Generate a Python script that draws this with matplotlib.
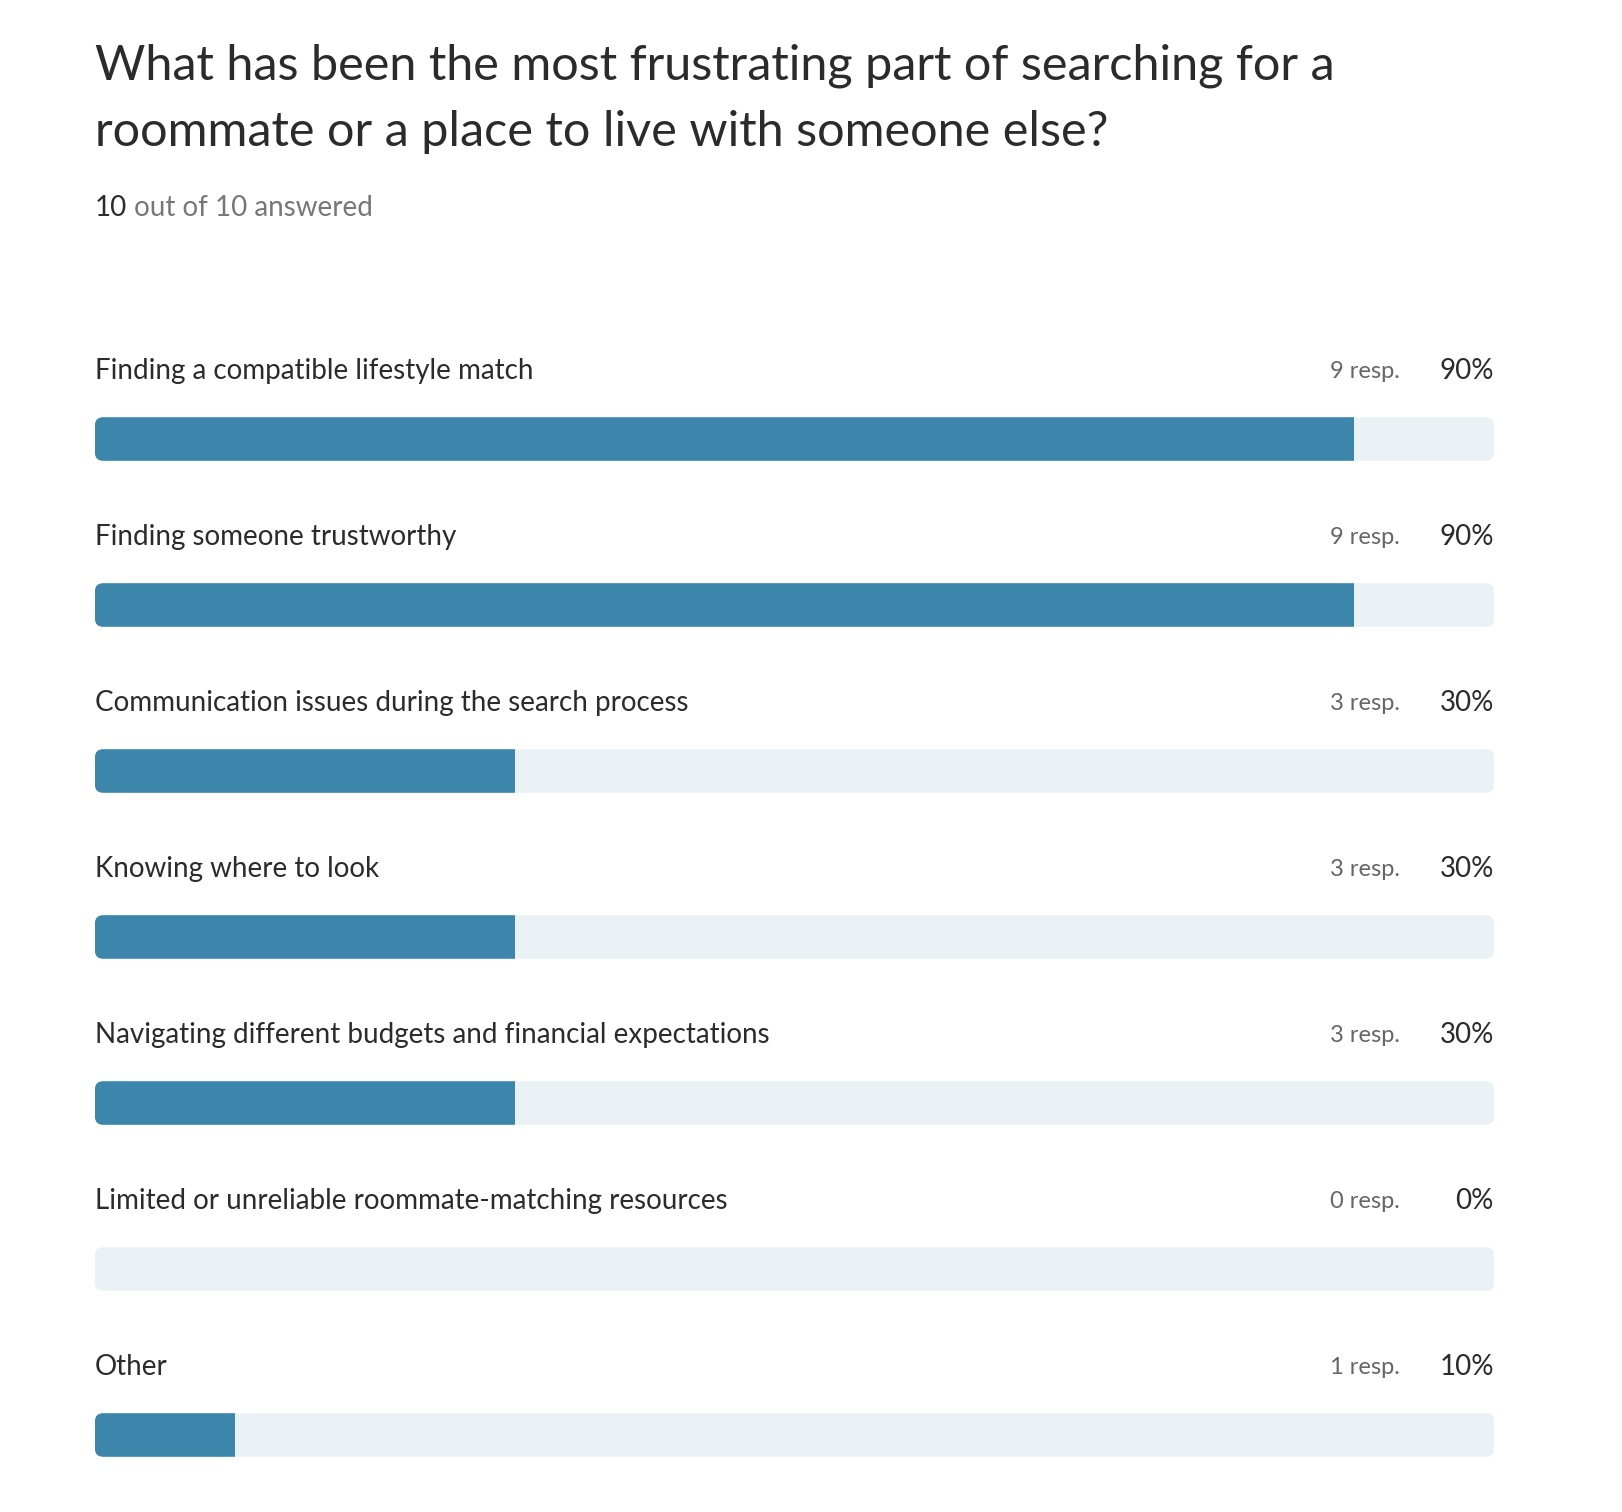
import matplotlib
matplotlib.use("Agg")
import matplotlib.pyplot as plt
from matplotlib.patches import FancyBboxPatch, Rectangle

plt.rcParams["font.family"] = ["Lato", "DejaVu Sans"]

TITLE = "What has been the most frustrating part of searching for a\nroommate or a place to live with someone else?"
answered, total = 10, 10
labels = [
    "Finding a compatible lifestyle match",
    "Finding someone trustworthy",
    "Communication issues during the search process",
    "Knowing where to look",
    "Navigating different budgets and financial expectations",
    "Limited or unreliable roommate-matching resources",
    "Other",
]
responses = [9, 9, 3, 3, 3, 0, 1]
percents = [90, 90, 30, 30, 30, 0, 10]

W, H = 1622, 1512
fig = plt.figure(figsize=(W / 100, H / 100), dpi=100)
fig.patch.set_facecolor("white")

X0, BW = 95, 1399
ax = fig.add_axes([X0 / W, 0, BW / W, 1])
ax.set_xlim(0, 100)
ax.set_ylim(H, 0)
ax.axis("off")

fig.text(X0 / W, 1 - 44 / H, TITLE, fontsize=35, color="#2b2b2b", va="top",
         linespacing=1.6)
t = ax.text(0, 208, f"{answered}", fontsize=20, color="#2b2b2b", va="center")
ax.annotate(f" out of {total} answered", xy=(1, 0.5), xycoords=t,
            fontsize=20, color="#777777", va="center", ha="left")

track = "#eaf2f6"
fill = "#3c85ab"
for i, (lab, n, p) in enumerate(zip(labels, responses, percents)):
    ly = 371 + i * 166
    by = 439 + i * 166
    ax.text(0, ly, lab, fontsize=20, color="#2b2b2b", va="center", ha="left")
    ax.text(93.3, ly, f"{n} resp.", fontsize=17, color="#666666", va="center", ha="right")
    ax.text(100, ly, f"{p}%", fontsize=20, color="#2b2b2b", va="center", ha="right")
    h = 44
    bg = FancyBboxPatch((0.6, by - h / 2 + 8), 98.8, h - 16,
                        boxstyle="round,pad=0.6,rounding_size=0.6",
                        mutation_aspect=13, fc=track, ec="none")
    ax.add_patch(bg)
    if p > 0:
        fg = FancyBboxPatch((0.6, by - h / 2 + 8), 98.8, h - 16,
                            boxstyle="round,pad=0.6,rounding_size=0.6",
                            mutation_aspect=13, fc=fill, ec="none")
        ax.add_patch(fg)
        clip = Rectangle((-1, by - h), p + 1, 2 * h, transform=ax.transData)
        fg.set_clip_path(clip)

fig.savefig("out.png", dpi=100)
